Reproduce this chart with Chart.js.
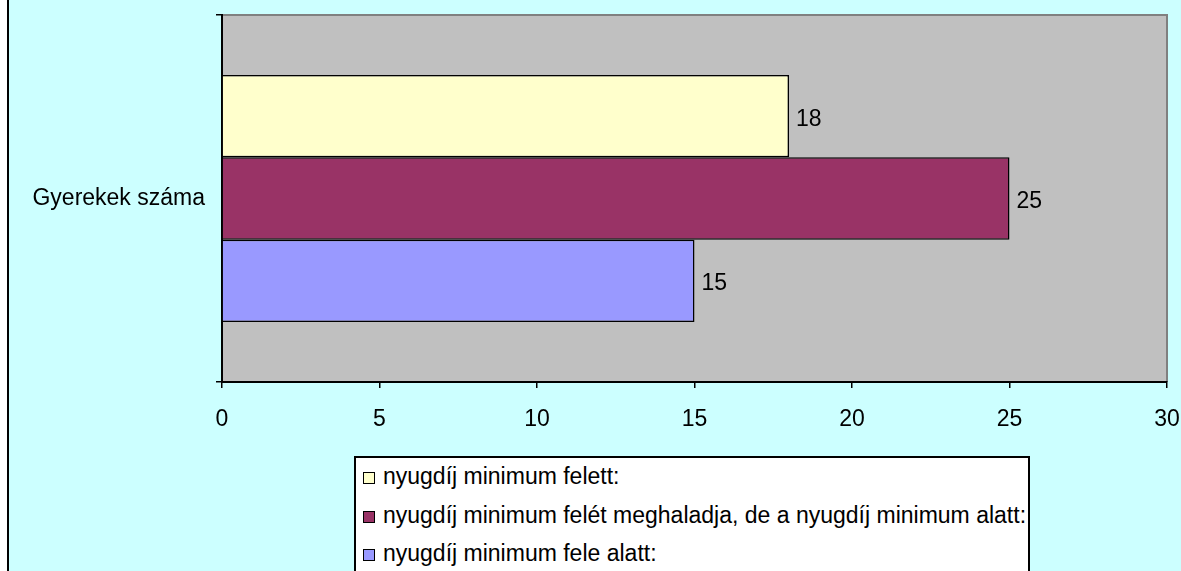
<!DOCTYPE html>
<html>
<head>
<meta charset="utf-8">
<script src="https://cdn.jsdelivr.net/npm/chart.js@4.4.0/dist/chart.umd.min.js"></script>
<style>
  html, body { margin: 0; padding: 0; background: #fff; overflow: hidden; }
  #frame {
    position: absolute; left: 7px; top: 0; width: 1174px; height: 571px;
    border-left: 2px solid #000; background: #ccffff;
  }
  #chart { position: absolute; left: 0; top: 0; z-index: 1; }
  #legend {
    position: absolute; left: 354px; top: 456px; width: 672px; height: 130px; z-index: 2;
    border: 2px solid #000; background: #fff;
    font: 23px "Liberation Sans", Arial, sans-serif; color: #000;
  }
  #legend .row { position: absolute; left: 7px; height: 26px; line-height: 26px; white-space: nowrap; }
  #legend .sw {
    display: inline-block; width: 10px; height: 10px; border: 1px solid #000;
    margin-right: 8px; vertical-align: 0px;
  }
</style>
</head>
<body>
<canvas id="chart" width="1181" height="571"></canvas>
<div id="frame"></div>
<div id="legend"></div>
<script>
const categories = ['Gyerekek száma'];
const seriesNames = [
  'nyugdíj minimum felett:',
  'nyugdíj minimum felét meghaladja, de a nyugdíj minimum alatt:',
  'nyugdíj minimum fele alatt:'
];
const aboveMin = [18];
const aboveHalfMin = [25];
const belowHalfMin = [15];
const seriesColors = ['#ffffcc', '#993366', '#9999ff'];

const font = { family: '"Liberation Sans", Arial, sans-serif', size: 23 };

const plotBackground = {
  id: 'plotBackground',
  beforeDraw(chart) {
    const { ctx, chartArea: a } = chart;
    ctx.save();
    ctx.fillStyle = '#c0c0c0';
    ctx.fillRect(a.left, a.top, a.right - a.left, a.bottom - a.top);
    ctx.strokeStyle = '#808080';
    ctx.lineWidth = 2;
    ctx.beginPath();
    ctx.moveTo(a.left, a.top);
    ctx.lineTo(a.right, a.top);
    ctx.lineTo(a.right, a.bottom);
    ctx.stroke();
    ctx.restore();
  }
};

// value printed just right of each bar end
const valueLabels = {
  id: 'valueLabels',
  afterDatasetsDraw(chart) {
    const { ctx } = chart;
    ctx.save();
    ctx.font = font.size + 'px ' + font.family;
    ctx.fillStyle = '#000';
    ctx.textBaseline = 'middle';
    ctx.textAlign = 'left';
    chart.data.datasets.forEach((ds, i) => {
      chart.getDatasetMeta(i).data.forEach((bar, j) => {
        ctx.fillText(ds.data[j], bar.x + 7, bar.y + 3);
      });
    });
    ctx.restore();
  }
};

const chart = new Chart(document.getElementById('chart'), {
  type: 'bar',
  data: {
    labels: categories,
    datasets: [
      { label: seriesNames[0], data: aboveMin, backgroundColor: seriesColors[0] },
      { label: seriesNames[1], data: aboveHalfMin, backgroundColor: seriesColors[1] },
      { label: seriesNames[2], data: belowHalfMin, backgroundColor: seriesColors[2] }
    ].map(d => Object.assign(d, {
      borderColor: '#000', borderWidth: 1.5,
      categoryPercentage: 0.673, barPercentage: 1
    }))
  },
  options: {
    indexAxis: 'y',
    responsive: false,
    animation: false,
    layout: { padding: { left: 0, top: 15, right: 14, bottom: 139 } },
    plugins: { legend: { display: false }, tooltip: { enabled: false } },
    scales: {
      x: {
        min: 0, max: 30,
        ticks: { stepSize: 5, color: '#000', font: font, padding: 18, maxRotation: 0 },
        grid: { drawOnChartArea: false, color: '#000', tickLength: 6, lineWidth: 1.5 },
        border: { color: '#000', width: 2 },
        afterFit(scale) {
          scale.height = 50;
          scale.paddingLeft = 0;
          scale.paddingRight = 0;
        }
      },
      y: {
        ticks: { color: '#000', font: font, padding: 11 },
        grid: { offset: true, drawOnChartArea: false, color: '#000', tickLength: 6, lineWidth: 1.5 },
        border: { color: '#000', width: 2 },
        afterFit(scale) {
          scale.width = 222;
          scale.paddingTop = 0;
          scale.paddingBottom = 0;
        }
      }
    }
  },
  plugins: [plotBackground, valueLabels]
});

// HTML legend built from the chart datasets
const legend = document.getElementById('legend');
const rowTops = [5, 44, 82];
chart.data.datasets.forEach((ds, i) => {
  const row = document.createElement('div');
  row.className = 'row';
  row.style.top = rowTops[i] + 'px';
  const sw = document.createElement('span');
  sw.className = 'sw';
  sw.style.background = ds.backgroundColor;
  row.appendChild(sw);
  row.appendChild(document.createTextNode(ds.label));
  legend.appendChild(row);
});
</script>
</body>
</html>
